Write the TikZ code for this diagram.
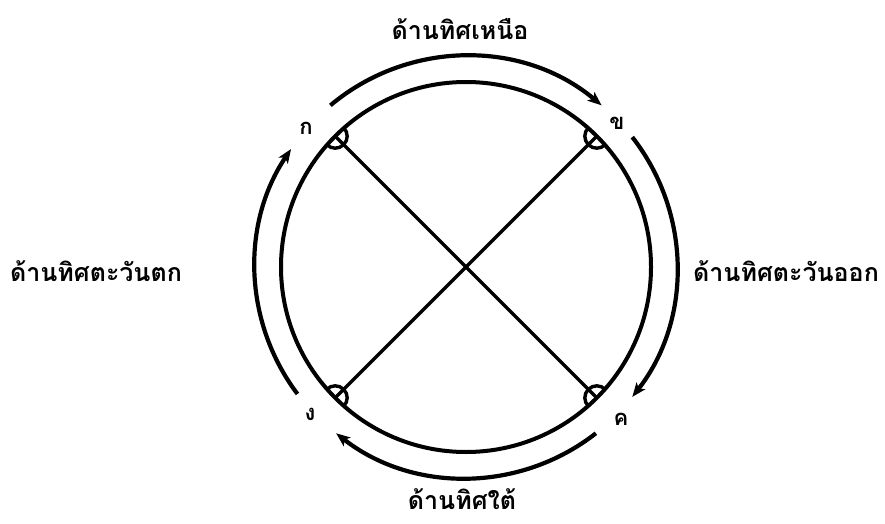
\documentclass[tikz,border=0pt]{standalone}
\usepackage{fontspec}
\newfontfamily\thaifont[Script=Thai]{Loma}
\usepackage{tikz}
\usetikzlibrary{arrows.meta}

\tikzset{
  dirlabel/.style={font=\thaifont\bfseries\fontsize{25}{27}\selectfont, inner sep=0.75pt},
  cornerlabel/.style={font=\thaifont\bfseries\fontsize{22}{24}\selectfont, inner sep=0.75pt},
  walkarrow/.style={line width=4.2pt, -{Stealth[length=14pt,width=11pt,inset=3.5pt]}},
}

\begin{document}
\begin{tikzpicture}[x=1pt,y=1pt]
\useasboundingbox (0,0) rectangle (885,523);
% centre of the plot
\coordinate (o) at (466,256);

% Circle
\draw [line width=4pt] (o) circle [radius=185];

% corners of the plot
\coordinate (ko)     at ([shift={(o)}]135:185);
\coordinate (khai)   at ([shift={(o)}]45:185);
\coordinate (khwai)  at ([shift={(o)}]-45:185);
\coordinate (ngu)    at ([shift={(o)}]-135:185);

% Straight Lines
\draw [line width=3.4pt] (ko) -- (khwai);
\draw [line width=3.4pt] (khai) -- (ngu);

% angle marks
\foreach \ang/\pt in {135/ko, 45/khai, -45/khwai, -135/ngu}
  \draw [line width=3.4pt] ([shift={(\pt)}]\ang+90:12) arc [start angle=\ang+90, end angle=\ang+270, radius=12];

% Curve Lines with arrows
\draw [walkarrow] ([shift={(o)}]130:211) arc [start angle=130, end angle=50, radius=211];
\draw [walkarrow] ([shift={(o)}]38:211) arc [start angle=38, end angle=-38, radius=211];
\draw [walkarrow] ([shift={(o)}]-52:211) arc [start angle=-52, end angle=-128, radius=211];
\draw [walkarrow] ([shift={(o)}]217:211) arc [start angle=217, end angle=146, radius=211];

% Text Node
\node [cornerlabel] (lko)    at (306,395) {ก};
\node [cornerlabel] (lkhai)  at (617,400) {ข};
\node [cornerlabel] (lkhwai) at (621,104) {ค};
\node [cornerlabel] (lngu)   at (310,109) {ง};

% Text Node
\node [dirlabel] (north) at (460,494) {ด้านทิศเหนือ};
\node [dirlabel] (south) at (462,24)  {ด้านทิศใต้};
\node [dirlabel] (west)  at (96,252) {ด้านทิศตะวันตก};
\node [dirlabel] (east)  at (786,252) {ด้านทิศตะวันออก};
\end{tikzpicture}
\end{document}
